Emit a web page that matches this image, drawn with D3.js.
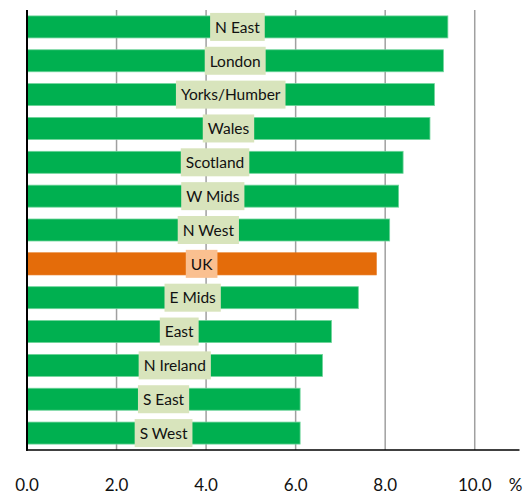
<!DOCTYPE html>
<html>
<head>
<meta charset="utf-8">
<script src="https://cdn.jsdelivr.net/npm/d3@7"></script>
<style>
  body { margin: 0; background: #fff; }
  svg { display: block; }
</style>
</head>
<body>
<div id="chart"></div>
<script>
var regions = ["N East", "London", "Yorks/Humber", "Wales", "Scotland", "W Mids", "N West",
               "UK", "E Mids", "East", "N Ireland", "S East", "S West"];
var rates = [9.4, 9.3, 9.1, 9.0, 8.4, 8.3, 8.1, 7.8, 7.4, 6.8, 6.6, 6.1, 6.1];
var tickValues = [0, 2, 4, 6, 8, 10];
var unitLabel = "%";

var data = regions.map(function(r, i) { return { region: r, rate: rates[i] }; });

var width = 532, height = 493;
var plotLeft = 27, plotRight = 519.5, plotTop = 10, plotBottom = 450;

var x = d3.scaleLinear().domain([0, 11]).range([plotLeft, plotRight]);
var y = d3.scaleBand().domain(regions).range([plotTop, plotBottom]).paddingInner(0.35).paddingOuter(0.175);

var svg = d3.select("#chart").append("svg")
    .attr("width", width)
    .attr("height", height)
    .style("font-family", "Lato, 'Open Sans', sans-serif");

// vertical gridlines
svg.append("g")
    .selectAll("line")
    .data(tickValues.slice(1))
    .enter().append("line")
    .attr("x1", function(d) { return x(d); })
    .attr("x2", function(d) { return x(d); })
    .attr("y1", plotTop)
    .attr("y2", plotBottom)
    .attr("stroke", "#a0a0a0")
    .attr("stroke-width", 1.5);

// bars
svg.append("g")
    .selectAll("rect")
    .data(data)
    .enter().append("rect")
    .attr("x", x(0))
    .attr("y", function(d) { return y(d.region); })
    .attr("width", function(d) { return x(d.rate) - x(0); })
    .attr("height", y.bandwidth())
    .attr("fill", function(d) { return d.region === "UK" ? "#e46c0a" : "#00b050"; })
    .attr("stroke", function(d) { return d.region === "UK" ? "#e46c0a" : "#6ed49a"; })
    .attr("stroke-width", 0.8);

// labels with boxes, centred on each bar
var lab = svg.append("g")
    .selectAll("g")
    .data(data)
    .enter().append("g")
    .attr("transform", function(d) {
        return "translate(" + ((x(0) + x(d.rate)) / 2) + "," + (y(d.region) + y.bandwidth() / 2) + ")";
    });

var boxes = lab.append("rect")
    .attr("fill", function(d) { return d.region === "UK" ? "#fac090" : "#d8e4bc"; });

var texts = lab.append("text")
    .attr("text-anchor", "middle")
    .attr("dy", "0.37em")
    .attr("font-size", "15.5px")
    .attr("fill", "#111")
    .text(function(d) { return d.region; });

texts.each(function(d, i) {
    var w = this.getComputedTextLength();
    d3.select(boxes.nodes()[i])
        .attr("x", -w / 2 - 5)
        .attr("y", -14)
        .attr("width", w + 10)
        .attr("height", 28);
});

// axes lines
svg.append("line")
    .attr("x1", plotLeft).attr("x2", plotLeft)
    .attr("y1", plotTop).attr("y2", plotBottom + 0.75)
    .attr("stroke", "#000").attr("stroke-width", 2);

svg.append("line")
    .attr("x1", plotLeft - 1).attr("x2", plotRight)
    .attr("y1", plotBottom).attr("y2", plotBottom)
    .attr("stroke", "#000").attr("stroke-width", 1.5);

// tick labels
svg.append("g")
    .selectAll("text")
    .data(tickValues)
    .enter().append("text")
    .attr("x", function(d) { return x(d); })
    .attr("y", 490.5)
    .attr("text-anchor", "middle")
    .attr("font-size", "17px")
    .attr("fill", "#111")
    .text(function(d) { return d3.format(".1f")(d); });

svg.append("text")
    .attr("x", x(11) - 4)
    .attr("y", 490.5)
    .attr("text-anchor", "middle")
    .attr("font-size", "17px")
    .attr("fill", "#111")
    .text(unitLabel);
</script>
</body>
</html>
